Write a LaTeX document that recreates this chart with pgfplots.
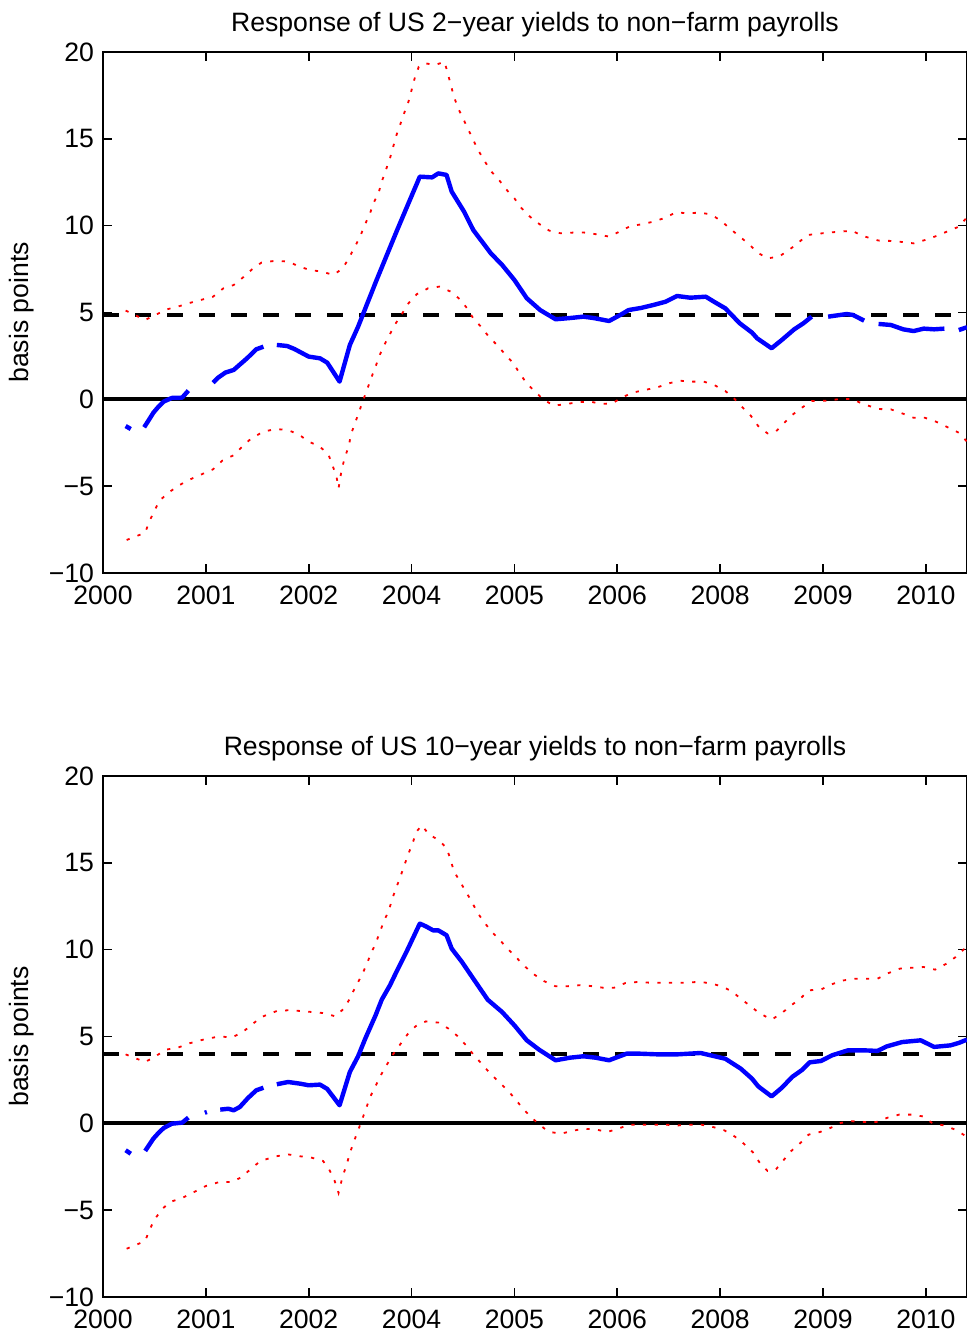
\documentclass[border=0pt]{standalone}
\usepackage{fontspec}
\setmainfont{Liberation Sans}
\usepackage{pgfplots}
\pgfplotsset{compat=1.18}
\pgfplotsset{
  myax/.style={
    scale only axis, width=432pt, height=260.5pt,
    xmin=0, xmax=8.4, ymin=-10, ymax=20,
    xtick={0,1,2,3,4,5,6,7,8},
    xticklabels={2000,2001,2002,2004,2005,2006,2008,2009,2010},
    ytick={-10,-5,0,5,10,15,20},
    yticklabels={−10,−5,0,5,10,15,20},
    /pgf/number format/assume math mode=true,
    tick align=inside, major tick length=4.5pt,
    axis line style={line width=1pt},
    every tick/.style={black, line width=0.8pt},
    tick label style={font=\fontsize{13.3}{16}\selectfont},
    xticklabel style={anchor=base, yshift=-16pt},
    yticklabel style={anchor=east, xshift=-1pt},
    label style={font=\fontsize{13.3}{16}\selectfont},
    every axis title/.style={font=\fontsize{13.3}{16}\selectfont, at={(axis description cs:0.5,1.0393)}, anchor=base},
    every axis y label/.style={at={(axis description cs:-0.0938,0.5)}, rotate=90, anchor=center},
    ylabel={basis points},
    unbounded coords=jump,
    clip=true,
  },
  blueline/.style={color={rgb,255:red,0;green,0;blue,255}, line width=2.2pt, line join=round, line cap=butt},
  redband/.style={color={rgb,255:red,255;green,0;blue,0}, line width=0.9pt, dash pattern=on 1.6pt off 4.2pt},
  zeroline/.style={black, line width=2pt},
  meanline/.style={black, line width=2pt, dash pattern=on 7.8pt off 8.2pt},
}
\begin{document}
\begin{tikzpicture}[font=\fontsize{13.3}{16}\selectfont]
\path[use as bounding box] (0,0) rectangle (483.5pt,668pt);
% ---------------- top ----------------
\begin{axis}[myax, at={(51.5pt,381.5pt)}, anchor=south west,
  title={Response of US 2−year yields to non−farm payrolls}]
\addplot[zeroline] coordinates {(0,0) (8.4,0)};
\addplot[meanline] coordinates {(0,4.84) (8.4,4.84)};
\addplot[redband] coordinates {
(0.22,5.11) (0.41,4.57) (0.51,4.86) (0.62,5.18) (0.73,5.34) (0.83,5.53) (1.07,5.91) (1.17,6.39) (1.27,6.58) (1.37,7.06) (1.45,7.49) (1.54,7.87) (1.68,7.98) (1.80,7.93) (1.91,7.64) (2.01,7.45) (2.13,7.35) (2.24,7.16) (2.33,7.54) (2.39,8.12) (2.44,8.69) (2.50,9.37) (2.54,9.98) (2.59,10.61) (2.63,11.29) (2.68,11.9) (2.71,12.53) (2.75,13.2) (2.79,13.88) (2.82,14.51) (2.85,15.16) (2.89,15.83) (2.93,16.51) (2.97,17.14) (3.00,17.81) (3.03,18.48) (3.07,19.15) (3.13,19.35) (3.23,19.25) (3.32,19.44) (3.35,18.81) (3.38,18.14) (3.41,17.47) (3.45,16.79) (3.50,16.18) (3.55,15.55) (3.60,14.93) (3.65,14.32) (3.71,13.72) (3.77,13.15) (3.85,12.63) (3.92,12.09) (4.00,11.57) (4.07,11.0) (4.15,10.52) (4.24,10.1) (4.34,9.71) (4.45,9.56) (4.57,9.6) (4.68,9.6) (4.80,9.5) (4.92,9.37) (5.02,9.65) (5.13,9.98) (5.24,10.08) (5.35,10.23) (5.47,10.46) (5.57,10.77) (5.68,10.71) (5.80,10.75) (5.91,10.65) (6.01,10.27) (6.10,9.81) (6.19,9.37) (6.28,8.94) (6.36,8.46) (6.46,8.12) (6.57,8.21) (6.67,8.6) (6.76,9.02) (6.85,9.46) (7.05,9.6) (7.16,9.65) (7.28,9.71) (7.39,9.4) (7.54,9.14) (7.66,9.12) (7.77,9.06) (7.88,8.98) (7.99,9.17) (8.10,9.4) (8.32,9.94) (8.40,10.48)
};
\addplot[redband] coordinates {
(0.23,-8.1) (0.41,-7.68) (0.45,-7.04) (0.50,-6.41) (0.55,-5.83) (0.64,-5.36) (0.73,-4.99) (0.82,-4.68) (1.07,-4.03) (1.16,-3.53) (1.27,-3.22) (1.36,-2.69) (1.44,-2.26) (1.56,-1.86) (1.68,-1.71) (1.80,-1.77) (1.91,-2.05) (2.00,-2.44) (2.10,-2.69) (2.19,-3.15) (2.23,-3.78) (2.27,-4.45) (2.29,-5.12) (2.32,-4.07) (2.35,-3.36) (2.39,-2.69) (2.41,-2.02) (2.45,-1.38) (2.49,-0.71) (2.53,-0.04) (2.57,0.6) (2.61,1.27) (2.65,1.88) (2.69,2.55) (2.74,3.19) (2.79,3.76) (2.85,4.41) (2.91,4.95) (2.97,5.53) (3.05,6.05) (3.16,6.39) (3.27,6.49) (3.38,6.2) (3.47,5.76) (3.54,5.24) (3.60,4.66) (3.68,4.15) (3.75,3.61) (3.83,3.13) (3.91,2.59) (3.99,2.07) (4.05,1.5) (4.12,0.92) (4.20,0.44) (4.28,0.0) (4.38,-0.36) (4.49,-0.29) (4.61,-0.17) (4.74,-0.13) (4.84,-0.27) (4.95,-0.23) (5.06,0.15) (5.16,0.4) (5.27,0.54) (5.39,0.69) (5.50,0.92) (5.61,1.07) (5.73,1.02) (5.84,1.02) (5.94,0.83) (6.05,0.48) (6.14,0.02) (6.22,-0.48) (6.30,-0.96) (6.37,-1.54) (6.46,-1.96) (6.54,-1.86) (6.62,-1.38) (6.70,-0.9) (6.80,-0.46) (6.89,-0.1) (7.05,-0.08) (7.16,0.02) (7.28,0.02) (7.39,-0.27) (7.54,-0.56) (7.66,-0.58) (7.77,-0.81) (7.88,-1.06) (7.99,-1.06) (8.10,-1.29) (8.32,-1.92) (8.40,-2.44)
};
\addplot[blueline] coordinates {
(0.22,-1.54) (0.27,-1.71) (0.33,nan)
(0.40,-1.61) (0.45,-1.15) (0.49,-0.77) (0.54,-0.42) (0.59,-0.13) (0.67,0.08) (0.73,0.08) (0.77,0.1) (0.83,0.5) (0.95,nan)
(1.07,0.96) (1.12,1.25) (1.19,1.54) (1.27,1.69) (1.33,2.0) (1.40,2.36) (1.49,2.88) (1.56,3.03) (1.62,nan)
(1.69,3.13) (1.79,3.07) (1.86,2.9) (1.92,2.71) (2.0,2.46) (2.11,2.36) (2.18,2.11) (2.30,1.02) (2.40,3.13) (2.48,4.18) (2.57,5.53) (2.66,6.87) (2.78,8.6) (2.86,9.75) (2.97,11.29) (3.08,12.82) (3.20,12.78) (3.26,13.01) (3.34,12.92) (3.39,11.96) (3.51,10.81) (3.60,9.75) (3.77,8.41) (3.88,7.74) (4.00,6.87) (4.12,5.82) (4.25,5.14) (4.40,4.61) (4.54,4.68) (4.67,4.76) (4.77,4.68) (4.92,4.51) (5.03,4.86) (5.11,5.14) (5.23,5.26) (5.35,5.43) (5.47,5.62) (5.58,5.95) (5.71,5.85) (5.86,5.91) (5.94,5.62) (6.05,5.24) (6.19,4.38) (6.31,3.84) (6.36,3.51) (6.50,2.94) (6.60,3.42) (6.72,4.03) (6.81,4.38) (6.89,4.76) (6.97,nan)
(7.05,4.76) (7.23,4.91) (7.29,4.86) (7.40,4.53) (7.47,nan)
(7.54,4.34) (7.66,4.28) (7.78,4.03) (7.88,3.93) (7.98,4.07) (8.08,4.03) (8.18,4.07) (8.25,nan)
(8.32,3.99) (8.40,4.15)
};
\end{axis}
% ---------------- bottom ----------------
\begin{axis}[myax, at={(51.5pt,19.5pt)}, anchor=south west,
  title={Response of US 10−year yields to non−farm payrolls}]
\addplot[zeroline] coordinates {(0,0) (8.4,0)};
\addplot[meanline] coordinates {(0,4.01) (8.4,4.01)};
\addplot[redband] coordinates {
(0.22,3.97) (0.41,3.53) (0.51,3.86) (0.61,4.24) (0.73,4.36) (0.83,4.59) (1.0,4.86) (1.14,5.01) (1.25,4.93) (1.36,5.26) (1.45,5.70) (1.54,6.12) (1.69,6.47) (1.80,6.51) (1.92,6.47) (2.03,6.41) (2.14,6.35) (2.26,6.16) (2.34,6.6) (2.40,7.18) (2.45,7.81) (2.51,8.46) (2.56,9.1) (2.60,9.71) (2.65,10.35) (2.69,10.98) (2.73,11.63) (2.78,12.26) (2.81,12.9) (2.85,13.55) (2.89,14.18) (2.93,14.86) (2.97,15.53) (3.01,16.14) (3.05,16.81) (3.10,17.16) (3.17,16.62) (3.26,16.33) (3.34,15.85) (3.38,15.18) (3.41,14.53) (3.47,13.93) (3.53,13.32) (3.59,12.71) (3.64,12.13) (3.71,11.55) (3.78,11.02) (3.86,10.54) (3.94,10.02) (4.02,9.54) (4.10,9.04) (4.19,8.58) (4.29,8.18) (4.40,7.89) (4.51,7.89) (4.63,7.95) (4.74,7.91) (4.86,7.81) (4.97,7.81) (5.08,8.08) (5.20,8.14) (5.31,8.1) (5.43,8.1) (5.54,8.1) (5.66,8.1) (5.78,8.14) (5.90,8.08) (6.01,7.89) (6.11,7.62) (6.20,7.18) (6.29,6.77) (6.38,6.35) (6.50,5.97) (6.60,6.35) (6.69,6.79) (6.78,7.18) (6.86,7.66) (6.98,7.70) (7.08,8.0) (7.20,8.23) (7.31,8.33) (7.42,8.33) (7.53,8.33) (7.64,8.66) (7.75,8.91) (7.87,8.96) (7.98,9.0) (8.09,8.85) (8.20,9.19) (8.29,9.58) (8.37,10.02) (8.40,10.05)
};
\addplot[redband] coordinates {
(0.23,-7.22) (0.41,-6.78) (0.45,-6.16) (0.50,-5.55) (0.57,-4.97) (0.65,-4.53) (0.77,-4.3) (1.0,-3.61) (1.13,-3.38) (1.25,-3.38) (1.35,-3.09) (1.44,-2.61) (1.53,-2.17) (1.68,-1.9) (1.80,-1.79) (1.92,-1.9) (2.03,-1.98) (2.14,-2.17) (2.20,-2.67) (2.25,-3.28) (2.29,-4.01) (2.33,-3.05) (2.37,-2.36) (2.40,-1.71) (2.44,-1.04) (2.48,-0.4) (2.52,0.23) (2.56,0.9) (2.60,1.55) (2.65,2.15) (2.70,2.76) (2.76,3.38) (2.82,3.97) (2.89,4.55) (2.96,5.12) (3.04,5.59) (3.14,5.87) (3.26,5.8) (3.36,5.45) (3.45,5.01) (3.53,4.49) (3.60,3.97) (3.68,3.44) (3.76,2.9) (3.84,2.44) (3.92,1.98) (4.00,1.46) (4.07,0.94) (4.15,0.42) (4.24,-0.06) (4.33,-0.48) (4.45,-0.6) (4.56,-0.44) (4.67,-0.31) (4.79,-0.35) (4.90,-0.5) (5.01,-0.31) (5.11,-0.08) (5.23,-0.08) (5.35,-0.08) (5.47,-0.08) (5.59,-0.12) (5.70,-0.08) (5.82,-0.08) (5.93,-0.21) (6.04,-0.4) (6.14,-0.75) (6.23,-1.17) (6.32,-1.68) (6.38,-2.23) (6.46,-2.74) (6.54,-2.67) (6.61,-2.17) (6.68,-1.65) (6.78,-1.13) (6.86,-0.65) (6.97,-0.5) (7.07,-0.27) (7.17,0.02) (7.28,0.12) (7.40,0.08) (7.52,0.08) (7.63,0.33) (7.74,0.5) (7.86,0.5) (7.97,0.4) (8.07,-0.02) (8.18,-0.12) (8.30,-0.4) (8.39,-0.75)
};
\addplot[blueline] coordinates {
(0.22,-1.55) (0.27,-1.75) (0.33,nan)
(0.41,-1.59) (0.49,-0.88) (0.54,-0.55) (0.59,-0.27) (0.67,-0.02) (0.77,0.04) (0.83,0.33) (0.9,nan)
(0.99,0.61) (1.01,0.65) (1.07,nan)
(1.14,0.79) (1.22,0.84) (1.27,0.75) (1.33,0.94) (1.41,1.46) (1.49,1.90) (1.56,2.05) (1.62,nan)
(1.69,2.25) (1.80,2.38) (1.92,2.28) (2.0,2.19) (2.11,2.23) (2.18,1.98) (2.30,1.04) (2.40,2.96) (2.48,3.86) (2.55,4.88) (2.65,6.22) (2.71,7.12) (2.79,7.95) (2.86,8.81) (2.95,9.87) (3.08,11.5) (3.14,11.34) (3.21,11.11) (3.26,11.11) (3.34,10.83) (3.39,10.06) (3.49,9.29) (3.60,8.33) (3.74,7.12) (3.88,6.41) (4.00,5.64) (4.12,4.78) (4.24,4.24) (4.40,3.63) (4.54,3.78) (4.67,3.86) (4.79,3.78) (4.92,3.63) (5.09,4.01) (5.22,4.01) (5.40,3.97) (5.58,3.97) (5.81,4.05) (6.05,3.72) (6.20,3.15) (6.31,2.57) (6.37,2.13) (6.50,1.55) (6.60,2.05) (6.70,2.67) (6.80,3.09) (6.87,3.51) (6.98,3.59) (7.09,3.92) (7.24,4.2) (7.41,4.2) (7.53,4.17) (7.62,4.43) (7.77,4.68) (7.95,4.78) (8.08,4.4) (8.24,4.49) (8.32,4.63) (8.40,4.82)
};
\end{axis}
\end{tikzpicture}
\end{document}
